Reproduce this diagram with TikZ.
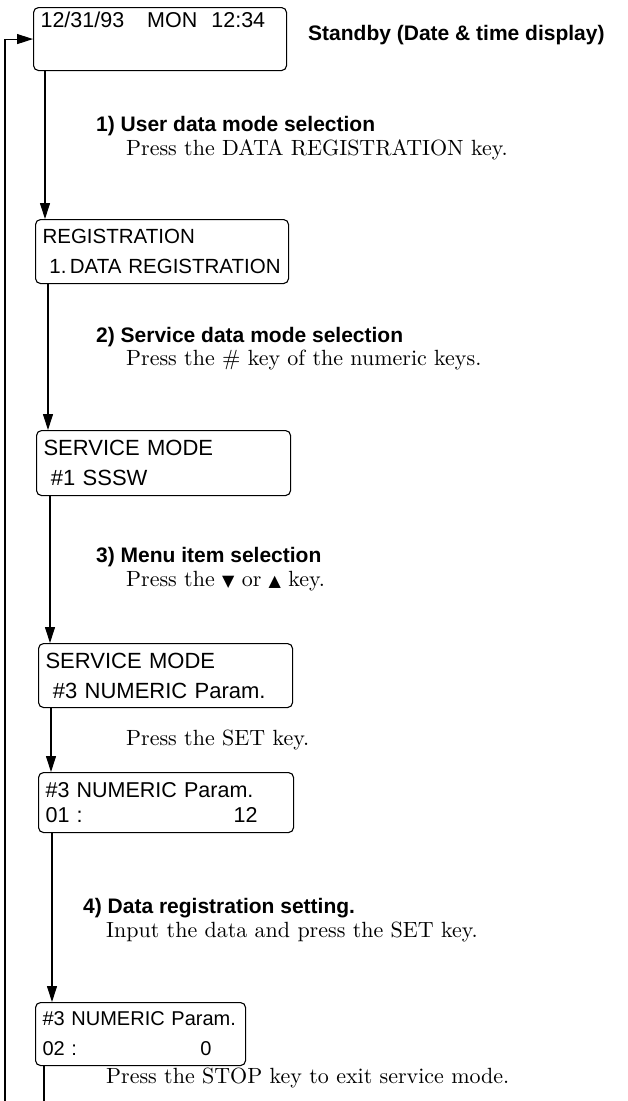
\documentclass[tikz,border=0pt]{standalone}
\usepackage{fontspec}
\usepackage{tikz}
\usetikzlibrary{arrows.meta,calc}
\setsansfont{Liberation Sans}
\newfontfamily\symfont{DejaVu Sans}
\newfontfamily\notefont{lmroman10-regular}[Extension=.otf]

\tikzset{
  lcd/.style={draw, rounded corners=5pt, line width=1.1pt, anchor=north west,
    align=left, inner xsep=7pt, inner ysep=2pt,
    font=\sffamily\fontsize{#1}{30}\selectfont},
  lcd/.default=20,
  stephead/.style={anchor=base west, inner sep=0pt,
    font=\sffamily\bfseries\fontsize{21}{25}\selectfont},
  stepnote/.style={anchor=base west, inner sep=0pt,
    font=\notefont\fontsize{22}{26}\selectfont},
  flow/.style={line width=1.1pt, -{Triangle[length=16pt,width=10pt]}}
}

\begin{document}
\begin{tikzpicture}[x=1pt, y=-1pt]
  \useasboundingbox (0,0) rectangle (628,1101);

  % Display boxes
  \node[lcd=21.5, text width=239pt, minimum height=63pt] (b1) at (33,7)
    {12/31/93\hspace{23pt}MON\hspace{14pt}12:34\\ \strut};
  \node[lcd=20.5, text width=239pt, minimum height=64pt] (b2) at (35,219)
    {REGISTRATION\\ \mbox{\ 1.\,DATA REGISTRATION}};
  \node[lcd=22, text width=240pt, minimum height=65pt] (b3) at (36,430)
    {SERVICE MODE\\ \ \#1 SSSW};
  \node[lcd=22, text width=240pt, minimum height=64pt] (b4) at (38,643)
    {SERVICE MODE\\ \ \#3 NUMERIC Param.};
  \node[lcd=21.5, text width=241pt, minimum height=60pt] (b5) at (38,772)
    {\mbox{\#3 NUMERIC Param.}\\[-5pt]
     \makebox[241pt][l]{01 :\hfill 12\hspace{29pt}}};
  \node[lcd=20, text width=196pt, minimum height=63pt] (b6) at (35,1002)
    {\mbox{\#3 NUMERIC Param.}\\
     \makebox[196pt][l]{02 :\hfill 0\hspace{27pt}}};

  % Texts
  \node[stephead] (t0) at (308,40) {Standby (Date \& time display)};
  \node[stephead] (h1) at (96,131) {1) User data mode selection};
  \node[stepnote] (n1) at (126,155) {Press the DATA REGISTRATION key.};
  \node[stephead] (h2) at (96,342) {2) Service data mode selection};
  \node[stepnote] (n2) at (126,365) {Press the \# key of the numeric keys.};
  \node[stephead] (h3) at (96,562) {3) Menu item selection};
  \node[stepnote] (n3) at (126,586) {Press the {\symfont\fontsize{16}{18}\selectfont ▼} or {\symfont\fontsize{16}{18}\selectfont ▲} key.};
  \node[stepnote] (n4) at (126,745) {Press the SET key.};
  \node[stephead] (h5) at (83,913) {4) Data registration setting.};
  \node[stepnote] (n5) at (106,937) {Input the data and press the SET key.};
  \node[stepnote] (n6) at (106,1083) {Press the STOP key to exit service mode.};

  % Connectors
  \draw[flow] ([xshift=12pt]b1.south west) -- ([xshift=12pt]b1.south west |- b2.north);
  \draw[flow] ([xshift=13pt]b2.south west) -- ([xshift=13pt]b2.south west |- b3.north);
  \draw[flow] ([xshift=14pt]b3.south west) -- ([xshift=14pt]b3.south west |- b4.north);
  \draw[flow] ([xshift=13pt]b4.south west) -- ([xshift=13pt]b4.south west |- b5.north);
  \draw[flow] ([xshift=14pt]b5.south west) -- ([xshift=14pt]b5.south west |- b6.north);

  % Return to standby
  \coordinate (back) at (5,1102);
  \draw[flow] ([xshift=9pt]b6.south west) |- (back) |- (b1.west);
\end{tikzpicture}
\end{document}
